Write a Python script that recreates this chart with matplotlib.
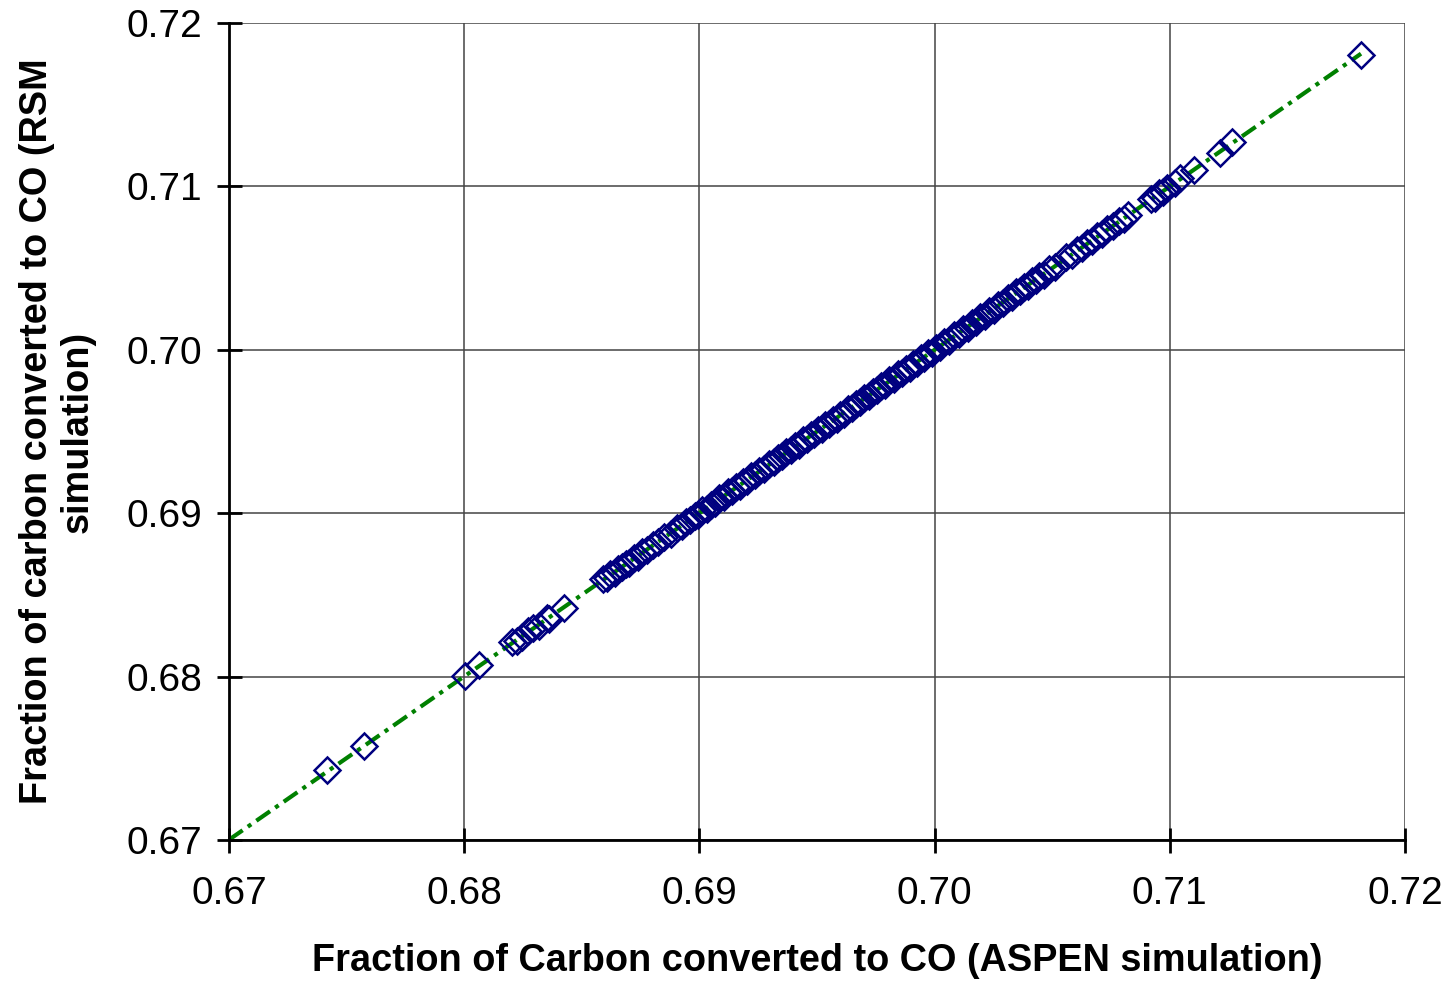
import numpy as np
import matplotlib.pyplot as plt

# ASPEN simulation (x) vs RSM prediction (y)
aspen = [0.67417, 0.67574, 0.68002, 0.68064,
         0.68205, 0.68224, 0.68246, 0.68271, 0.68293, 0.68318, 0.68352, 0.68362, 0.68425,
         0.68590, 0.68608, 0.68622, 0.68641, 0.68655, 0.68671, 0.68686, 0.68702, 0.68721,
         0.68738, 0.68757, 0.68779, 0.68802, 0.68826, 0.68851, 0.68879, 0.68903, 0.68925,
         0.68941, 0.68962, 0.68980, 0.68995, 0.69012, 0.69031, 0.69048, 0.69066, 0.69085,
         0.69104, 0.69122, 0.69140, 0.69157, 0.69171, 0.69186, 0.69203, 0.69221, 0.69238,
         0.69255, 0.69276, 0.69298, 0.69316, 0.69333, 0.69352, 0.69370, 0.69391, 0.69408,
         0.69425, 0.69441, 0.69458, 0.69473, 0.69489, 0.69505, 0.69521, 0.69536, 0.69552,
         0.69567, 0.69583, 0.69598, 0.69614, 0.69630, 0.69647, 0.69664, 0.69683, 0.69702,
         0.69721, 0.69739, 0.69756, 0.69774, 0.69791, 0.69808, 0.69826, 0.69844, 0.69861,
         0.69877, 0.69894, 0.69910, 0.69926, 0.69942, 0.69957, 0.69973, 0.69988, 0.70004,
         0.70021, 0.70040, 0.70061, 0.70083, 0.70104, 0.70122, 0.70141, 0.70158, 0.70176,
         0.70195, 0.70214, 0.70233, 0.70251, 0.70270, 0.70290, 0.70311, 0.70330, 0.70348,
         0.70365, 0.70381, 0.70398, 0.70414, 0.70430, 0.70446, 0.70465, 0.70488, 0.70512,
         0.70560, 0.70583, 0.70604, 0.70626, 0.70648, 0.70668, 0.70689, 0.70712, 0.70735,
         0.70760, 0.70784, 0.70806, 0.70822,
         0.70918, 0.70935, 0.70952, 0.70970, 0.70988, 0.71022, 0.71044, 0.71103, 0.71213,
         0.71264, 0.71813]

rsm = [0.67428, 0.67575, 0.68001, 0.68070,
       0.68212, 0.68220, 0.68240, 0.68279, 0.68295, 0.68312, 0.68360, 0.68355, 0.68421,
       0.68595, 0.68602, 0.68627, 0.68636, 0.68661, 0.68668, 0.68690, 0.68697, 0.68726,
       0.68733, 0.68762, 0.68775, 0.68806, 0.68821, 0.68856, 0.68874, 0.68908, 0.68920,
       0.68946, 0.68958, 0.68985, 0.68991, 0.69017, 0.69026, 0.69053, 0.69062, 0.69090,
       0.69099, 0.69127, 0.69135, 0.69162, 0.69167, 0.69192, 0.69198, 0.69226, 0.69233,
       0.69260, 0.69271, 0.69303, 0.69311, 0.69338, 0.69347, 0.69375, 0.69386, 0.69413,
       0.69420, 0.69446, 0.69453, 0.69478, 0.69484, 0.69510, 0.69516, 0.69541, 0.69547,
       0.69572, 0.69578, 0.69603, 0.69609, 0.69635, 0.69642, 0.69669, 0.69678, 0.69707,
       0.69716, 0.69744, 0.69751, 0.69779, 0.69786, 0.69813, 0.69821, 0.69849, 0.69856,
       0.69882, 0.69889, 0.69915, 0.69921, 0.69947, 0.69952, 0.69978, 0.69983, 0.70009,
       0.70016, 0.70045, 0.70056, 0.70088, 0.70099, 0.70127, 0.70136, 0.70163, 0.70171,
       0.70200, 0.70209, 0.70238, 0.70246, 0.70275, 0.70285, 0.70316, 0.70325, 0.70353,
       0.70360, 0.70386, 0.70393, 0.70419, 0.70425, 0.70451, 0.70460, 0.70493, 0.70507,
       0.70565, 0.70578, 0.70609, 0.70621, 0.70653, 0.70663, 0.70694, 0.70707, 0.70740,
       0.70755, 0.70789, 0.70801, 0.70827,
       0.70924, 0.70930, 0.70957, 0.70965, 0.70993, 0.71018, 0.71049, 0.71100, 0.71205,
       0.71272, 0.71804]

ticks = [0.67, 0.68, 0.69, 0.70, 0.71, 0.72]
tick_labels = ["0.67", "0.68", "0.69", "0.70", "0.71", "0.72"]

plt.rcParams['font.family'] = ['Liberation Sans', 'DejaVu Sans']

fig = plt.figure(figsize=(14.51, 9.82), dpi=100)
ax = fig.add_axes([0.1578, 0.1446, 0.8105, 0.832])

# linear trend line, extended back to 0.67
coef = np.polyfit(aspen, rsm, 1)
tx = np.array([0.67, max(aspen)])
ax.plot(tx, np.polyval(coef, tx), color='#008000', lw=3,
        linestyle=(0, (4, 1.5, 1, 1.5)), zorder=2)

ax.plot(aspen, rsm, linestyle='none', marker='D', markersize=13.5,
        markerfacecolor='none', markeredgecolor='#000080', markeredgewidth=1.8,
        zorder=3)

ax.set_xlim(0.67, 0.72)
ax.set_ylim(0.67, 0.72)
ax.set_xticks(ticks)
ax.set_xticklabels(tick_labels)
ax.set_yticks(ticks)
ax.set_yticklabels(tick_labels)

ax.grid(True, color='#444444', lw=1.1, zorder=0)
ax.set_axisbelow(True)

for s in ['top', 'right']:
    ax.spines[s].set_visible(False)
for s in ['left', 'bottom']:
    ax.spines[s].set_linewidth(2)
    ax.spines[s].set_color('black')
    ax.spines[s].set_zorder(4)

ax.tick_params(direction='inout', length=18, width=2, labelsize=28)
ax.tick_params(axis='x', pad=17)
ax.tick_params(axis='y', pad=10)

ax.set_xlabel("Fraction of Carbon converted to CO (ASPEN simulation)",
              fontsize=27.3, fontweight='bold', labelpad=22)
ax.set_ylabel("Fraction of carbon converted to CO (RSM\nsimulation)",
              fontsize=27.3, fontweight='bold', labelpad=22)

fig.savefig("out.png", dpi=100)
